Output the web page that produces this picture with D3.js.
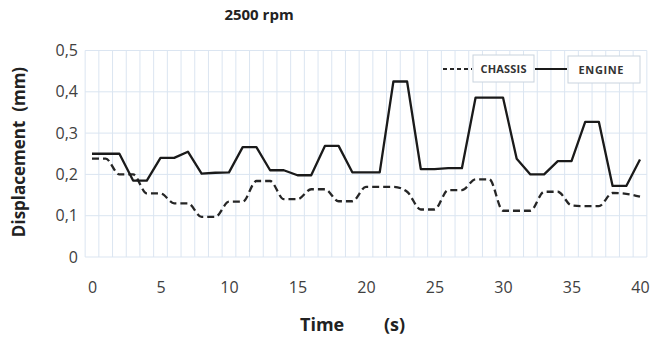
<!DOCTYPE html>
<html>
<head>
<meta charset="utf-8">
<script src="https://cdn.jsdelivr.net/npm/d3@7"></script>
<style>
  body { margin: 0; background: #fff; }
  text { font-family: "Open Sans", "Liberation Sans", sans-serif; }
</style>
</head>
<body>
<script>
// data (time 0..40 s, displacement in mm)
const times = d3.range(0, 41);
const engine = [0.25, 0.25, 0.25, 0.185, 0.185, 0.24, 0.24, 0.255, 0.202, 0.204,
  0.205, 0.266, 0.266, 0.21, 0.21, 0.198, 0.198, 0.269, 0.269, 0.205,
  0.205, 0.205, 0.425, 0.425, 0.213, 0.213, 0.215, 0.215, 0.386, 0.386,
  0.386, 0.238, 0.2, 0.2, 0.232, 0.232, 0.327, 0.327, 0.172, 0.172, 0.236];
const chassis = [0.238, 0.238, 0.2, 0.2, 0.154, 0.154, 0.13, 0.13, 0.097, 0.097,
  0.134, 0.134, 0.184, 0.184, 0.14, 0.14, 0.164, 0.164, 0.135, 0.135,
  0.17, 0.17, 0.17, 0.158, 0.115, 0.115, 0.162, 0.162, 0.188, 0.188,
  0.112, 0.112, 0.112, 0.158, 0.158, 0.125, 0.123, 0.123, 0.155, 0.153, 0.146];
const xTicks = [0, 5, 10, 15, 20, 25, 30, 35, 40];
const yTicks = [0, 0.1, 0.2, 0.3, 0.4, 0.5];

const width = 653, height = 340;
const x0 = 92, x1 = 640, yTop = 50.5, yBot = 257;

const svg = d3.select("body").append("svg")
  .attr("width", width)
  .attr("height", height);

const xScale = d3.scaleLinear().domain([0, 40]).range([x0, x1]);
const yScale = d3.scaleLinear().domain([0, 0.5]).range([yBot, yTop]);

// grid: vertical lines between categories, horizontal at ticks
const grid = svg.append("g").attr("stroke", "#dbe5f1").attr("stroke-width", 1);
d3.range(-0.5, 41, 1).forEach(v => {
  grid.append("line")
    .attr("x1", xScale(v)).attr("x2", xScale(v))
    .attr("y1", yTop).attr("y2", yBot);
});
yTicks.forEach(v => {
  grid.append("line")
    .attr("x1", xScale(-0.5)).attr("x2", xScale(40.5))
    .attr("y1", yScale(v)).attr("y2", yScale(v));
});

// axes (labels only)
const xAxis = svg.append("g")
  .attr("transform", "translate(0," + (yBot + 17) + ")")
  .call(d3.axisBottom(xScale).tickValues(xTicks).tickSize(0).tickPadding(8));
xAxis.select(".domain").remove();
xAxis.selectAll("text").attr("font-size", 16).attr("fill", "#404040")
  .attr("font-family", "Open Sans");

const fmt = v => v === 0 ? "0" : d3.format(".1f")(v).replace(".", ",");
const yAxis = svg.append("g")
  .attr("transform", "translate(" + 78 + ",0)")
  .call(d3.axisLeft(yScale).tickValues(yTicks).tickFormat(fmt).tickSize(0).tickPadding(0));
yAxis.select(".domain").remove();
yAxis.selectAll("text").attr("font-size", 16).attr("fill", "#404040")
  .attr("font-family", "Open Sans");

// lines
const lineEngine = d3.line()
  .x((d, i) => xScale(times[i]))
  .y(d => yScale(d));
const lineChassis = d3.line()
  .x((d, i) => xScale(times[i]))
  .y(d => yScale(d))
  .curve(d3.curveMonotoneX);

svg.append("path")
  .datum(chassis)
  .attr("fill", "none")
  .attr("stroke", "#262626")
  .attr("stroke-width", 2.3)
  .attr("stroke-dasharray", "7,4")
  .attr("d", lineChassis);

svg.append("path")
  .datum(engine)
  .attr("fill", "none")
  .attr("stroke", "#1a1a1a")
  .attr("stroke-width", 2.3)
  .attr("stroke-linejoin", "round")
  .attr("d", lineEngine);

// legend
const leg = svg.append("g");
leg.append("line").attr("x1", 443).attr("x2", 472).attr("y1", 69).attr("y2", 69)
  .attr("stroke", "#262626").attr("stroke-width", 2).attr("stroke-dasharray", "4,3");
leg.append("rect").attr("x", 473).attr("y", 55).attr("width", 61).attr("height", 27)
  .attr("fill", "#fff").attr("stroke", "#c9d3de");
leg.append("text").attr("x", 503.5).attr("y", 73).attr("text-anchor", "middle")
  .attr("font-size", 11).attr("font-weight", "bold").attr("fill", "#333")
  .attr("textLength", 46).text("CHASSIS");
leg.append("line").attr("x1", 535).attr("x2", 567).attr("y1", 69).attr("y2", 69)
  .attr("stroke", "#1a1a1a").attr("stroke-width", 2);
leg.append("rect").attr("x", 568).attr("y", 56).attr("width", 72).attr("height", 27)
  .attr("fill", "#fff").attr("stroke", "#c9d3de");
leg.append("text").attr("x", 601).attr("y", 74).attr("text-anchor", "middle")
  .attr("font-size", 11).attr("font-weight", "bold").attr("fill", "#333")
  .attr("textLength", 45).text("ENGINE");

// titles
svg.append("text").attr("x", 259).attr("y", 20).attr("text-anchor", "middle")
  .attr("font-size", 15).attr("font-weight", "bold").attr("fill", "#222").text("2500 rpm");
svg.append("text").attr("x", 300).attr("y", 331)
  .attr("font-size", 18).attr("font-weight", "bold").attr("fill", "#222").text("Time");
svg.append("text").attr("x", 384).attr("y", 331)
  .attr("font-size", 18).attr("font-weight", "bold").attr("fill", "#222").text("(s)");
svg.append("text")
  .attr("transform", "translate(25,152) rotate(-90)")
  .attr("text-anchor", "middle")
  .attr("font-size", 17).attr("font-weight", "bold").attr("fill", "#222")
  .style("white-space", "pre").text("Displacement  (mm)");
</script>
</body>
</html>
